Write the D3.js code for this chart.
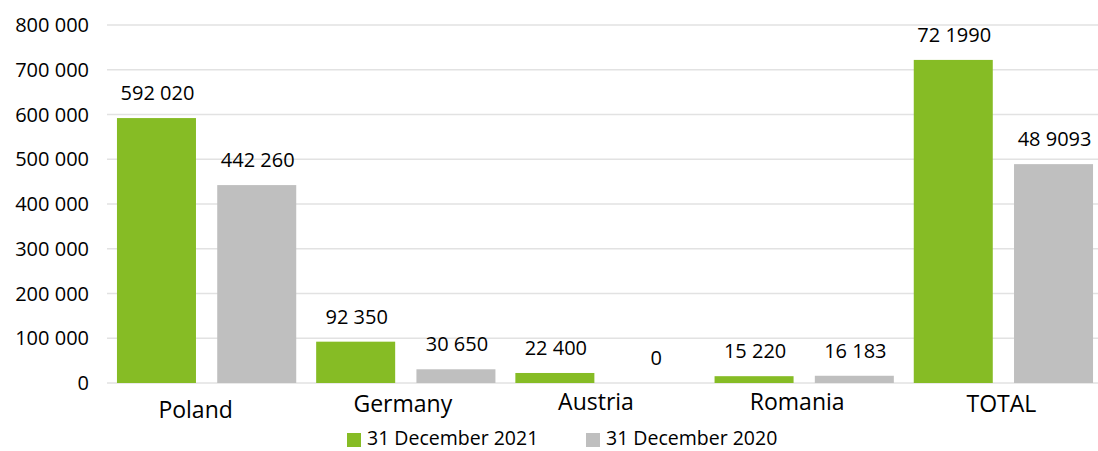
<!DOCTYPE html>
<html><head><meta charset="utf-8">
<script src="https://cdn.jsdelivr.net/npm/d3@7"></script>
<style>body{margin:0;background:#fff}svg{display:block;font-family:"Open Sans",sans-serif}</style>
</head><body><svg id="c" width="1098" height="451"></svg>
<script>
const categories = ["Poland","Germany","Austria","Romania","TOTAL"];
const seriesNames = ["31 December 2021","31 December 2020"];
const values2021 = [592020, 92350, 22400, 15220, 721990];
const values2020 = [442260, 30650, 0, 16183, 489093];
const labels2021 = ["592 020","92 350","22 400","15 220","72 1990"];
const labels2020 = ["442 260","30 650","0","16 183","48 9093"];
const yTicks = [0,100000,200000,300000,400000,500000,600000,700000,800000];
const yTickLabels = ["0","100 000","200 000","300 000","400 000","500 000","600 000","700 000","800 000"];

// layout-only nudges for category labels (as rendered in the source)
const catNudge = [[-11,7],[-3,1],[-9,-1],[-7,-1],[-2,1]];
const colors = ["#86bc25","#bfbfbf"];

const svg = d3.select("#c");
const y = d3.scaleLinear().domain([0,800000]).range([383,25]);
const x0 = d3.scaleBand().domain(categories).range([107,1103]).paddingInner(0.1).paddingOuter(0.05);
const x1 = d3.scaleBand().domain(seriesNames).range([0,x0.bandwidth()]).paddingInner(0.212).paddingOuter(0);

// gridlines
svg.append("g").selectAll("line").data(yTicks).join("line")
  .attr("x1",107).attr("x2",1098)
  .attr("y1",d=>y(d)).attr("y2",d=>y(d))
  .attr("stroke","#e2e2e2").attr("stroke-width",1.5);

// y tick labels
svg.append("g").selectAll("text").data(yTicks).join("text")
  .attr("x",89).attr("y",d=>y(d)).attr("dy","0.35em")
  .attr("text-anchor","end").attr("font-size",20).attr("fill","#000")
  .text((d,i)=>yTickLabels[i]);

const series = [
  {name:seriesNames[0], values:values2021, labels:labels2021, color:colors[0]},
  {name:seriesNames[1], values:values2020, labels:labels2020, color:colors[1]}
];

series.forEach(s=>{
  const g = svg.append("g");
  g.selectAll("rect").data(categories).join("rect")
    .attr("x",(c)=>x0(c)+x1(s.name))
    .attr("width",x1.bandwidth())
    .attr("y",(c,i)=>y(s.values[i]))
    .attr("height",(c,i)=>y(0)-y(s.values[i]))
    .attr("fill",s.color);
  g.selectAll("text").data(categories).join("text")
    .attr("x",(c)=>x0(c)+x1(s.name)+x1.bandwidth()/2+1)
    .attr("y",(c,i)=>y(s.values[i])-18)
    .attr("text-anchor","middle").attr("font-size",20).attr("fill","#000")
    .text((c,i)=>s.labels[i]);
});

// category labels
svg.append("g").selectAll("text").data(categories).join("text")
  .attr("x",(c,i)=>x0(c)+x0.bandwidth()/2+catNudge[i][0])
  .attr("y",(c,i)=>411+catNudge[i][1])
  .attr("text-anchor","middle").attr("font-size",23).attr("fill","#000")
  .text(c=>c);

// legend
const legendX = [347,586];
const lg = svg.append("g");
series.forEach((s,i)=>{
  lg.append("rect").attr("x",legendX[i]).attr("y",433).attr("width",14).attr("height",14).attr("fill",s.color);
  lg.append("text").attr("x",legendX[i]+20).attr("y",445).attr("font-size",19.5).attr("fill","#000").text(s.name);
});
</script></body></html>
